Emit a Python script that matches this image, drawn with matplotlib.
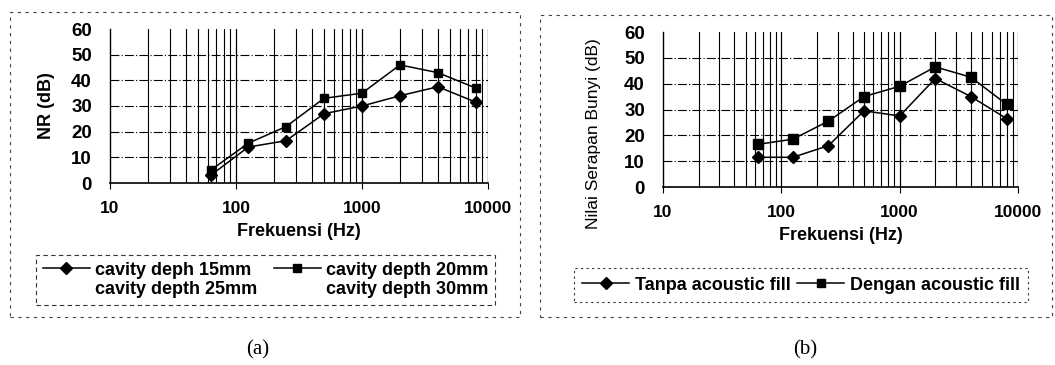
import matplotlib
matplotlib.use("Agg")
import matplotlib.pyplot as plt
from matplotlib.lines import Line2D
from matplotlib.patches import Rectangle
from matplotlib.ticker import LogLocator, FixedLocator, NullFormatter

# octave band centre frequencies (Hz)
freq = [63, 125, 250, 500, 1000, 2000, 4000, 8000]

# (a) noise reduction per cavity depth
nr_15mm = [3, 14, 16.5, 27, 30, 34, 37.5, 31.5]
nr_20mm = [5, 15.5, 22, 33, 35, 46, 43, 37]

# (b) sound absorption with / without acoustic fill
tanpa = [11.5, 11.5, 16, 29.5, 27.5, 42, 35, 26.5]
dengan = [16.5, 18.5, 25.5, 35, 39, 46.5, 42.5, 32]

yticks = [0, 10, 20, 30, 40, 50, 60]
xticks = [10, 100, 1000, 10000]
legend_a = ["cavity deph 15mm", "cavity depth 25mm", "cavity depth 20mm", "cavity depth 30mm"]
legend_b = ["Tanpa acoustic fill", "Dengan acoustic fill"]

plt.rcParams["font.family"] = ["Liberation Sans", "DejaVu Sans"]
plt.rcParams["font.weight"] = "bold"

W, H = 1055, 365
fig = plt.figure(figsize=(W / 100, H / 100), dpi=100)


def px(x0, y0, x1, y1):
    # pixel box (top-left origin) -> figure fraction rect
    return [x0 / W, 1 - y1 / H, (x1 - x0) / W, (y1 - y0) / H]


def style_axes(ax, ylabel, ylabel_size, ylabel_weight):
    ax.set_xscale("log")
    ax.set_xlim(10, 10000)
    ax.set_ylim(0, 60)
    ax.xaxis.set_major_locator(FixedLocator(xticks))
    ax.xaxis.set_major_formatter(plt.FuncFormatter(lambda v, _: f"{int(v)}"))
    ax.xaxis.set_minor_locator(LogLocator(base=10, subs=range(2, 10)))
    ax.xaxis.set_minor_formatter(NullFormatter())
    ax.set_yticks(yticks)
    for s in ("top", "right"):
        ax.spines[s].set_visible(False)
    ax.spines["left"].set_linewidth(1.0)
    ax.spines["bottom"].set_linewidth(1.2)
    ax.tick_params(axis="x", which="major", length=4, labelsize=12.5, pad=9)
    ax.tick_params(axis="x", which="minor", length=0)
    ax.tick_params(axis="y", length=0, labelsize=13.5, pad=13)
    for lab in ax.get_xticklabels() + ax.get_yticklabels():
        lab.set_fontweight("bold")
    # dense vertical grid, dash-dot horizontals
    for v in xticks[1:]:
        ax.axvline(v, color="black", lw=0.9, zorder=1)
    ax.grid(True, axis="x", which="minor", color="black", lw=0.8, zorder=1)
    for yv in yticks[1:-1]:
        ax.axhline(yv, color="black", lw=0.8, ls=(0, (8, 2, 1, 2)), zorder=1)
    ax.set_xlabel("Frekuensi (Hz)", fontsize=13, fontweight="bold", labelpad=5)
    ax.set_ylabel(ylabel, fontsize=ylabel_size, fontweight=ylabel_weight)


# ---- (a) ----
ax1 = fig.add_axes(px(110, 29, 488, 183))
style_axes(ax1, "NR (dB)", 13, "bold")
ax1.yaxis.set_label_coords((55 - 110) / 378, 0.5)
ax1.plot(freq, nr_15mm, color="black", lw=1.1, marker="D", ms=6, zorder=3)
ax1.plot(freq, nr_20mm, color="black", lw=1.1, marker="s", ms=6, zorder=3)

h15 = Line2D([], [], color="black", lw=1.1, marker="D", ms=6)
h20 = Line2D([], [], color="black", lw=1.1, marker="s", ms=6)
blank = Line2D([], [], color="white", lw=0)
fig.legend([h15, blank, h20, blank], legend_a, ncol=2, loc="center",
           bbox_to_anchor=((38 + 493) / 2 / W, 1 - 280 / H),
           prop={"size": 13, "weight": "bold"}, frameon=True, fancybox=False,
           edgecolor="black", handlelength=2.6, handletextpad=0.3,
           columnspacing=0.9, labelspacing=0.15, borderpad=0.35)
fig.legends[-1].get_frame().set_linestyle((0, (4, 3)))
fig.legends[-1].get_frame().set_linewidth(0.8)

# ---- (b) ----
ax2 = fig.add_axes(px(663, 32, 1018, 187))
style_axes(ax2, "Nilai Serapan Bunyi (dB)", 12.5, "normal")
# label sits low, centred below the axes middle
ax2.yaxis.set_label_coords((601 - 663) / 355, (187 - 134) / 155)
ax2.plot(freq, tanpa, color="black", lw=1.1, marker="D", ms=6, zorder=3)
ax2.plot(freq, dengan, color="black", lw=1.1, marker="s", ms=7, zorder=3)

hb1 = Line2D([], [], color="black", lw=1.1, marker="D", ms=6)
hb2 = Line2D([], [], color="black", lw=1.1, marker="s", ms=6)
fig.legend([hb1, hb2], legend_b, ncol=2, loc="center",
           bbox_to_anchor=((575 + 1027) / 2 / W, 1 - 285 / H),
           prop={"size": 13, "weight": "bold"}, frameon=True, fancybox=False,
           edgecolor="black", handlelength=2.6, handletextpad=0.3,
           columnspacing=0.4, borderpad=0.45)
fig.legends[-1].get_frame().set_linestyle((0, (2, 3)))
fig.legends[-1].get_frame().set_linewidth(0.8)

# outer chart-area frames
for x0, y0, x1, y1 in [(10, 12, 520, 317), (540, 15, 1052, 317)]:
    fig.patches.append(Rectangle((x0 / W, 1 - y1 / H), (x1 - x0) / W, (y1 - y0) / H,
                                 transform=fig.transFigure, fill=False,
                                 ec="#444444", lw=0.8, ls=(0, (3, 4))))

fig.text(258 / W, 1 - 350 / H, "(a)", ha="center", va="center",
         fontsize=15, family="Liberation Serif", fontweight="normal")
fig.text(805 / W, 1 - 350 / H, "(b)", ha="center", va="center",
         fontsize=15, family="Liberation Serif", fontweight="normal")

fig.savefig("out.png", dpi=100, facecolor="white")
